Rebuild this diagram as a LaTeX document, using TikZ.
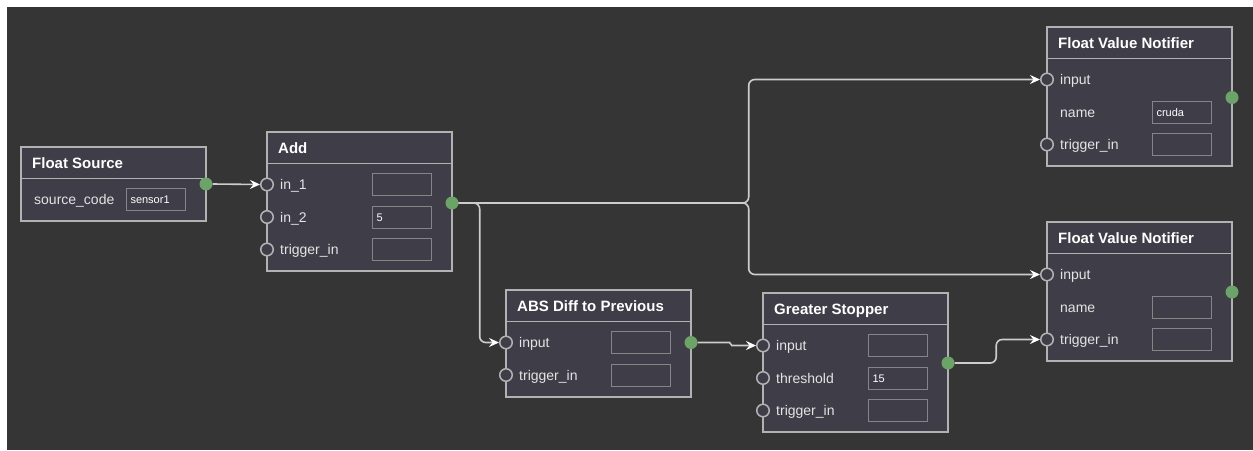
\documentclass[tikz,border=0pt]{standalone}
\usepackage{fontspec}
\setmainfont{Liberation Sans}
\usetikzlibrary{arrows.meta}

\definecolor{canvas}{HTML}{353535}
\definecolor{nodebody}{HTML}{3F3D47}
\definecolor{nodeedge}{HTML}{B2B2B2}
\definecolor{fieldedge}{HTML}{858585}
\definecolor{labeltext}{HTML}{E4E4E4}
\definecolor{outgreen}{HTML}{6BA368}
\definecolor{wirecol}{HTML}{CDCDCD}

\tikzset{
  block/.style={draw=nodeedge, fill=nodebody, line width=1.2pt, minimum width=185pt, anchor=north west, inner sep=0pt, outer sep=0pt},
  headline/.style={draw=nodeedge, line width=1.2pt},
  title/.style={anchor=base west, inner sep=0pt, text=white, font=\fontsize{15}{18}\selectfont\bfseries},
  label/.style={anchor=base west, inner sep=0pt, text=labeltext, font=\fontsize{14}{17}\selectfont},
  field/.style={draw=fieldedge, line width=1pt, anchor=west, minimum height=22pt, text width=51pt, inner xsep=4pt, inner ysep=0pt, align=left, text height=8pt, text depth=0pt, text=white, font=\fontsize{11}{13}\selectfont},
  port/.style={circle, draw=nodeedge, fill=nodebody, line width=1.5pt, minimum size=12.5pt, inner sep=0pt},
  outdot/.style={circle, fill=outgreen, minimum size=13pt, inner sep=0pt},
  wire/.style={draw=wirecol, line width=1.6pt, rounded corners=6pt, -{Stealth[length=10pt, width=9pt, inset=3.5pt, color=white]}}
}

\begin{document}
\begin{tikzpicture}[x=1pt, y=-1pt]
  \useasboundingbox (0,0) rectangle (1253,450);
  \fill[white] (0,0) rectangle (1253,450);
  \fill[canvas] (7,7) rectangle (1253,450);

  % Float Source
  \node[block, minimum height=74pt] (src) at (21,147) {};
  \draw[headline] ([yshift=-31.5pt]src.north west) -- ([yshift=-31.5pt]src.north east);
  \node[title] at ([shift={(11,21)}]src.north west) {Float Source};
  \node[label] at ([shift={(13,57.5)}]src.north west) {source\_code};
  \node[field] at ([shift={(105,52.5)}]src.north west) {sensor1};
  \node[outdot] (src-out) at ([shift={(0,37)}]src.north east) {};

  % Add
  \node[block, minimum height=139pt] (add) at (267,132) {};
  \draw[headline] ([yshift=-31.5pt]add.north west) -- ([yshift=-31.5pt]add.north east);
  \node[title] at ([shift={(11,21)}]add.north west) {Add};
  \foreach \pname/\lab/\val [count=\i] in {in1/in\_1/{}, in2/in\_2/5, trig/trigger\_in/{}} {
    \node[port] (add-\pname) at ([shift={(0,20+32.5*\i)}]add.north west) {};
    \node[label] at ([shift={(13,25+32.5*\i)}]add.north west) {\lab};
    \node[field] at ([shift={(105,20+32.5*\i)}]add.north west) {\val};
  }
  \node[outdot] (add-out) at ([shift={(0,71)}]add.north east) {};

  % ABS Diff to Previous
  \node[block, minimum height=107pt] (absd) at (506,290) {};
  \draw[headline] ([yshift=-31.5pt]absd.north west) -- ([yshift=-31.5pt]absd.north east);
  \node[title] at ([shift={(11,21)}]absd.north west) {ABS Diff to Previous};
  \foreach \pname/\lab [count=\i] in {in/input, trig/trigger\_in} {
    \node[port] (absd-\pname) at ([shift={(0,20+32.5*\i)}]absd.north west) {};
    \node[label] at ([shift={(13,25+32.5*\i)}]absd.north west) {\lab};
    \node[field] at ([shift={(105,20+32.5*\i)}]absd.north west) {};
  }
  \node[outdot] (absd-out) at ([shift={(0,52.5)}]absd.north east) {};

  % Greater Stopper
  \node[block, minimum height=139pt] (stop) at (763,293) {};
  \draw[headline] ([yshift=-31.5pt]stop.north west) -- ([yshift=-31.5pt]stop.north east);
  \node[title] at ([shift={(11,21)}]stop.north west) {Greater Stopper};
  \foreach \pname/\lab/\val [count=\i] in {in/input/{}, thr/threshold/15, trig/trigger\_in/{}} {
    \node[port] (stop-\pname) at ([shift={(0,20+32.5*\i)}]stop.north west) {};
    \node[label] at ([shift={(13,25+32.5*\i)}]stop.north west) {\lab};
    \node[field] at ([shift={(105,20+32.5*\i)}]stop.north west) {\val};
  }
  \node[outdot] (stop-out) at ([shift={(0,70)}]stop.north east) {};

  % Float Value Notifier (top)
  \node[block, minimum height=139pt] (notif1) at (1047,27) {};
  \draw[headline] ([yshift=-31.5pt]notif1.north west) -- ([yshift=-31.5pt]notif1.north east);
  \node[title] at ([shift={(11,21)}]notif1.north west) {Float Value Notifier};
  \node[port] (notif1-in) at ([shift={(0,52.5)}]notif1.north west) {};
  \node[label] at ([shift={(13,57.5)}]notif1.north west) {input};
  \node[label] at ([shift={(13,90)}]notif1.north west) {name};
  \node[field] at ([shift={(105,85)}]notif1.north west) {cruda};
  \node[port] (notif1-trig) at ([shift={(0,117.5)}]notif1.north west) {};
  \node[label] at ([shift={(13,122.5)}]notif1.north west) {trigger\_in};
  \node[field] at ([shift={(105,117.5)}]notif1.north west) {};
  \node[outdot] (notif1-out) at ([shift={(0,70.5)}]notif1.north east) {};

  % Float Value Notifier (bottom)
  \node[block, minimum height=139pt] (notif2) at (1047,222) {};
  \draw[headline] ([yshift=-31.5pt]notif2.north west) -- ([yshift=-31.5pt]notif2.north east);
  \node[title] at ([shift={(11,21)}]notif2.north west) {Float Value Notifier};
  \node[port] (notif2-in) at ([shift={(0,52.5)}]notif2.north west) {};
  \node[label] at ([shift={(13,57.5)}]notif2.north west) {input};
  \node[label] at ([shift={(13,90)}]notif2.north west) {name};
  \node[field] at ([shift={(105,85)}]notif2.north west) {};
  \node[port] (notif2-trig) at ([shift={(0,117.5)}]notif2.north west) {};
  \node[label] at ([shift={(13,122.5)}]notif2.north west) {trigger\_in};
  \node[field] at ([shift={(105,117.5)}]notif2.north west) {};
  \node[outdot] (notif2-out) at ([shift={(0,70)}]notif2.north east) {};

  % wires
  \draw[wire] (src-out.east) -- (add-in1.west);
  \draw[wire] (add-out.east) -- ++(21,0) |- (absd-in.west);
  \draw[wire] (add-out.east) -- ++(290,0) |- (notif1-in.west);
  \draw[wire] (add-out.east) -- ++(290,0) |- (notif2-in.west);
  \draw[wire] (absd-out.east) -- ++(26,0) to[out=0, in=180] ++(14,3) -- (stop-in.west);
  \draw[wire] (stop-out.east) -- ++(41.5,0) |- (notif2-trig.west);
\end{tikzpicture}
\end{document}
